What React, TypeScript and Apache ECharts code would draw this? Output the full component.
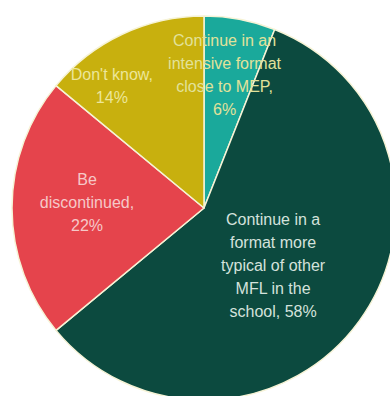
import React, { useEffect, useRef } from "react";
import * as echarts from "echarts";

const categories = [
  "Continue in an intensive format close to MEP",
  "Continue in a format more typical of other MFL in the school",
  "Be discontinued",
  "Don't know",
];
const values = [6, 58, 22, 14];
const labelLines = [
  ["Continue in an", "intensive format", "close to MEP,"],
  ["Continue in a", "format more", "typical of other", "MFL in the"],
  ["Be", "discontinued,"],
  ["Don't know,"],
];
const lastLinePrefix = ["", "school, ", "", ""];

const colors = ["#1aa99b", "#0c4a3f", "#e5444c", "#c8b00e"];
const textColors = ["#e2e29a", "#d4e2dc", "#f6c8c8", "#ece69a"];
const labelShift = [
  [2, -36],
  [-11, -1],
  [-18, -6],
  [-50, -32],
];

export default function App() {
  const ref = useRef<HTMLDivElement>(null);
  useEffect(() => {
    if (!ref.current) return;
    const chart = echarts.init(ref.current, undefined, { renderer: "svg" });
    chart.setOption({
      animation: false,
      series: [
        {
          type: "pie",
          center: [204, 208],
          radius: 192,
          startAngle: 90,
          clockwise: true,
          avoidLabelOverlap: false,
          itemStyle: { borderColor: "#f6f3d6", borderWidth: 1.5 },
          label: {
            show: true,
            position: "inside",
            fontFamily: "Liberation Sans, Arial, sans-serif",
            fontSize: 16,
            lineHeight: 23,
            align: "center",
            formatter: (p: any) =>
              labelLines[p.dataIndex].join("\n") +
              "\n" +
              lastLinePrefix[p.dataIndex] +
              values[p.dataIndex] +
              "%",
          },
          labelLine: { show: false },
          labelLayout: (p: any) => ({
            dx: labelShift[p.dataIndex][0],
            dy: labelShift[p.dataIndex][1],
          }),
          data: categories.map((name, i) => ({
            name,
            value: values[i],
            itemStyle: { color: colors[i] },
            label: { color: textColors[i] },
          })),
        },
      ],
    });
    return () => chart.dispose();
  }, []);
  return (
    <div
      ref={ref}
      style={{ position: "fixed", left: 0, top: 0, width: 390, height: 396, background: "#fff" }}
    />
  );
}
